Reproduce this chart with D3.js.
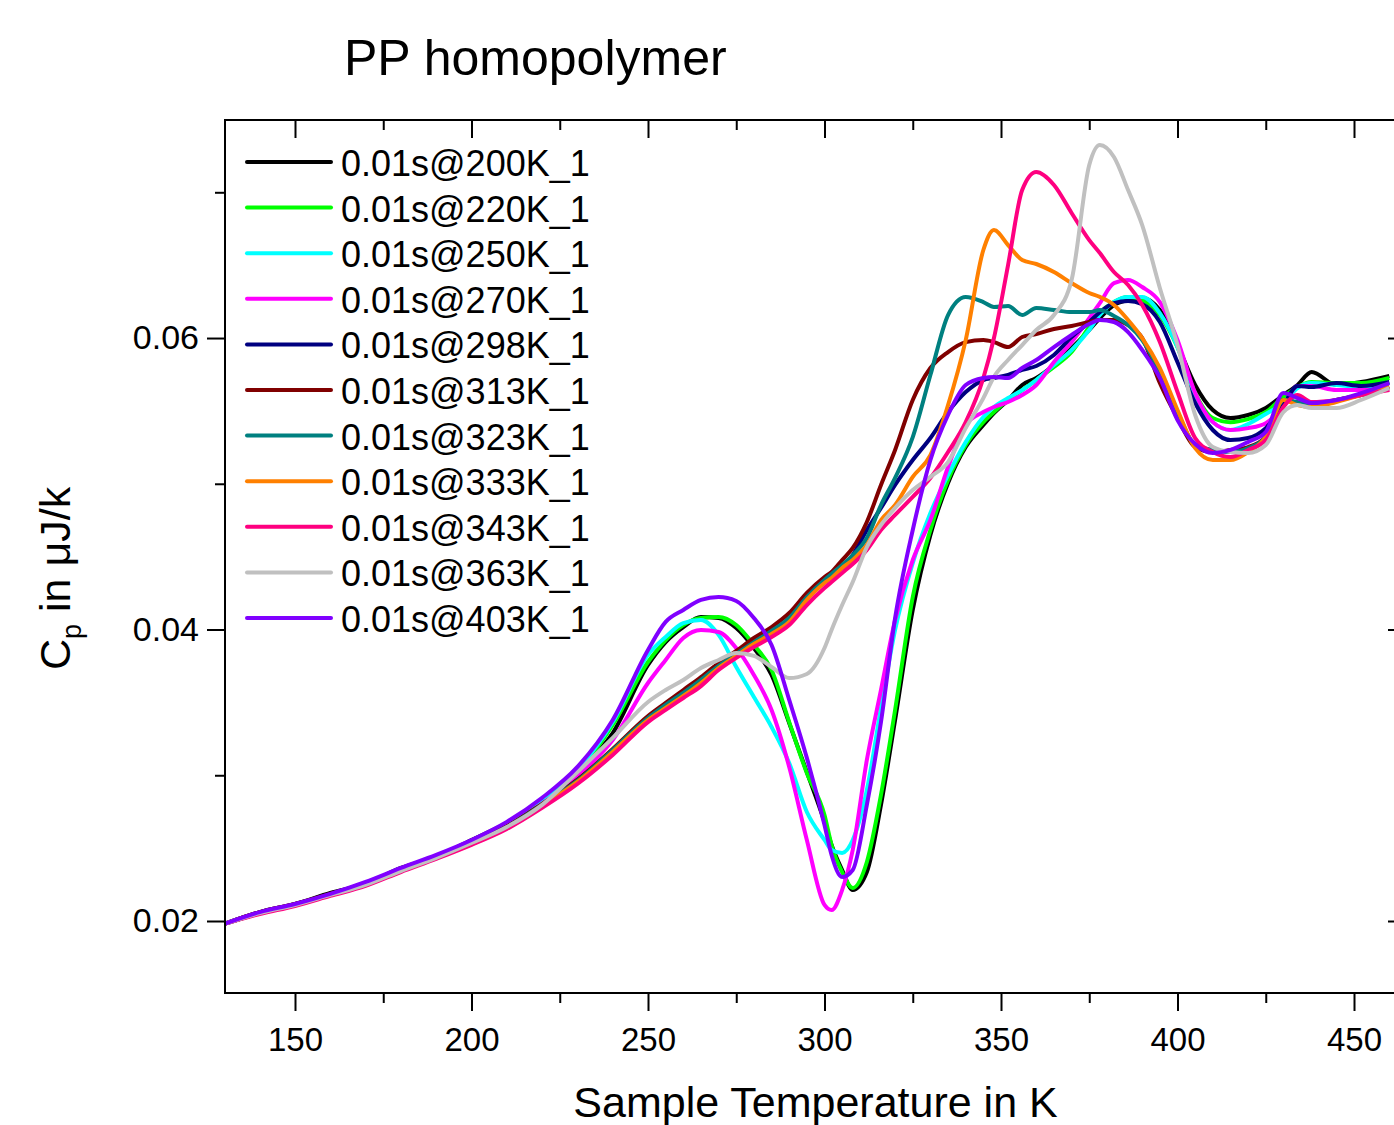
<!DOCTYPE html>
<html lang="en">
<head>
  <meta charset="UTF-8">
  <title>PP homopolymer</title>
  <script src="https://d3js.org/d3.v7.min.js"></script>
  <style>
    body {
      margin: 0;
      background: white;
    }

    svg {
      display: block;
      font-family: "Liberation Sans", Arial, sans-serif;
    }

    .tick line {
      stroke: black;
      stroke-width: 2;
    }

    .tick text {
      font-size: 33px;
      fill: black;
    }

    .y-labels .tick text {
      font-size: 34px;
    }
  </style>
</head>
<body>
  <svg id="chart"></svg>
  <script>
    // Sample temperature in K (shared by all curves)
    const temps = [130, 140, 150, 160, 170, 180, 190, 200, 210, 220, 230, 240, 250, 255, 260, 265, 270, 275, 280, 285, 290, 295, 300, 302, 305, 308, 312, 316, 320, 325, 330, 335, 340, 345, 348, 352, 356, 360, 365, 370, 375, 378, 382, 386, 390, 395, 400, 405, 410, 415, 420, 425, 430, 434, 438, 445, 452, 460];

    // Cp in uJ/k, one array per annealing temperature
    const cp200 = [0.01980, 0.02061, 0.02117, 0.02192, 0.02255, 0.02364, 0.02440, 0.02556, 0.02672, 0.02817, 0.03022, 0.03290, 0.03757, 0.03914, 0.04017, 0.04086, 0.04079, 0.04010, 0.03873, 0.03688, 0.03358, 0.03022, 0.02679, 0.02522, 0.02350, 0.02213, 0.02336, 0.02797, 0.03379, 0.04134, 0.04649, 0.05005, 0.05252, 0.05403, 0.05485, 0.05575, 0.05678, 0.05726, 0.05815, 0.05931, 0.06055, 0.06137, 0.06227, 0.06261, 0.06275, 0.06192, 0.05952, 0.05678, 0.05506, 0.05451, 0.05472, 0.05520, 0.05609, 0.05678, 0.05767, 0.05678, 0.05698, 0.05740];
    const cp220 = [0.01980, 0.02054, 0.02110, 0.02179, 0.02255, 0.02350, 0.02440, 0.02542, 0.02659, 0.02817, 0.03022, 0.03345, 0.03777, 0.03928, 0.04031, 0.04079, 0.04086, 0.04031, 0.03894, 0.03722, 0.03365, 0.03015, 0.02727, 0.02522, 0.02336, 0.02227, 0.02405, 0.02865, 0.03448, 0.04223, 0.04683, 0.05026, 0.05266, 0.05423, 0.05492, 0.05575, 0.05643, 0.05712, 0.05801, 0.05904, 0.06076, 0.06171, 0.06247, 0.06282, 0.06261, 0.06158, 0.05938, 0.05622, 0.05451, 0.05423, 0.05444, 0.05492, 0.05596, 0.05664, 0.05698, 0.05691, 0.05691, 0.05726];
    const cp250 = [0.01980, 0.02054, 0.02110, 0.02179, 0.02255, 0.02350, 0.02440, 0.02542, 0.02659, 0.02817, 0.03036, 0.03365, 0.03826, 0.03949, 0.04044, 0.04065, 0.03963, 0.03743, 0.03537, 0.03331, 0.03084, 0.02748, 0.02556, 0.02488, 0.02467, 0.02556, 0.02899, 0.03462, 0.03997, 0.04456, 0.04799, 0.05061, 0.05286, 0.05458, 0.05527, 0.05588, 0.05643, 0.05712, 0.05815, 0.05918, 0.06055, 0.06158, 0.06247, 0.06282, 0.06282, 0.06171, 0.05938, 0.05588, 0.05423, 0.05369, 0.05410, 0.05479, 0.05554, 0.05657, 0.05691, 0.05678, 0.05664, 0.05691];
    const cp270 = [0.01980, 0.02054, 0.02110, 0.02179, 0.02255, 0.02350, 0.02440, 0.02542, 0.02652, 0.02804, 0.02995, 0.03242, 0.03633, 0.03791, 0.03942, 0.03997, 0.03983, 0.03873, 0.03688, 0.03448, 0.03057, 0.02556, 0.02110, 0.02075, 0.02213, 0.02488, 0.03105, 0.03585, 0.04065, 0.04477, 0.04751, 0.05115, 0.05403, 0.05492, 0.05527, 0.05561, 0.05609, 0.05678, 0.05835, 0.05972, 0.06137, 0.06240, 0.06377, 0.06398, 0.06350, 0.06247, 0.05986, 0.05622, 0.05423, 0.05369, 0.05382, 0.05416, 0.05534, 0.05671, 0.05671, 0.05643, 0.05643, 0.05643];
    const cp298 = [0.01980, 0.02054, 0.02110, 0.02179, 0.02255, 0.02350, 0.02440, 0.02535, 0.02645, 0.02797, 0.02968, 0.03174, 0.03393, 0.03476, 0.03558, 0.03647, 0.03743, 0.03826, 0.03907, 0.03983, 0.04065, 0.04216, 0.04340, 0.04374, 0.04422, 0.04511, 0.04683, 0.04834, 0.04992, 0.05163, 0.05314, 0.05492, 0.05629, 0.05712, 0.05726, 0.05747, 0.05781, 0.05808, 0.05884, 0.06007, 0.06110, 0.06178, 0.06240, 0.06254, 0.06233, 0.06110, 0.05835, 0.05554, 0.05369, 0.05300, 0.05314, 0.05382, 0.05540, 0.05671, 0.05664, 0.05691, 0.05671, 0.05698];
    const cp313 = [0.01980, 0.02061, 0.02117, 0.02186, 0.02262, 0.02357, 0.02447, 0.02542, 0.02652, 0.02804, 0.02968, 0.03180, 0.03406, 0.03496, 0.03585, 0.03674, 0.03770, 0.03853, 0.03942, 0.04017, 0.04113, 0.04251, 0.04360, 0.04395, 0.04477, 0.04560, 0.04738, 0.04992, 0.05232, 0.05575, 0.05794, 0.05904, 0.05972, 0.05986, 0.05972, 0.05938, 0.06007, 0.06028, 0.06062, 0.06083, 0.06110, 0.06124, 0.06124, 0.06089, 0.06000, 0.05691, 0.05451, 0.05252, 0.05218, 0.05232, 0.05252, 0.05320, 0.05575, 0.05554, 0.05527, 0.05575, 0.05609, 0.05664];
    const cp323 = [0.01980, 0.02054, 0.02110, 0.02179, 0.02255, 0.02350, 0.02440, 0.02535, 0.02645, 0.02797, 0.02961, 0.03174, 0.03393, 0.03483, 0.03565, 0.03654, 0.03750, 0.03832, 0.03914, 0.03990, 0.04079, 0.04223, 0.04340, 0.04381, 0.04443, 0.04511, 0.04628, 0.04854, 0.05040, 0.05320, 0.05746, 0.06158, 0.06282, 0.06247, 0.06213, 0.06220, 0.06158, 0.06206, 0.06192, 0.06178, 0.06178, 0.06192, 0.06151, 0.06089, 0.05986, 0.05767, 0.05492, 0.05266, 0.05232, 0.05218, 0.05245, 0.05320, 0.05575, 0.05561, 0.05540, 0.05575, 0.05609, 0.05657];
    const cp333 = [0.01980, 0.02054, 0.02110, 0.02179, 0.02248, 0.02343, 0.02433, 0.02528, 0.02638, 0.02790, 0.02954, 0.03160, 0.03379, 0.03462, 0.03544, 0.03633, 0.03736, 0.03819, 0.03901, 0.03970, 0.04052, 0.04203, 0.04319, 0.04353, 0.04422, 0.04477, 0.04580, 0.04751, 0.04854, 0.05047, 0.05197, 0.05540, 0.05986, 0.06604, 0.06741, 0.06638, 0.06535, 0.06508, 0.06453, 0.06377, 0.06309, 0.06282, 0.06227, 0.06124, 0.06000, 0.05794, 0.05506, 0.05245, 0.05163, 0.05163, 0.05218, 0.05320, 0.05575, 0.05540, 0.05527, 0.05561, 0.05609, 0.05664];
    const cp343 = [0.01980, 0.02048, 0.02103, 0.02172, 0.02241, 0.02336, 0.02426, 0.02522, 0.02631, 0.02776, 0.02940, 0.03139, 0.03365, 0.03448, 0.03530, 0.03612, 0.03722, 0.03805, 0.03880, 0.03949, 0.04031, 0.04168, 0.04285, 0.04326, 0.04388, 0.04450, 0.04546, 0.04683, 0.04786, 0.04910, 0.05040, 0.05218, 0.05423, 0.05726, 0.06000, 0.06501, 0.07015, 0.07139, 0.07050, 0.06858, 0.06672, 0.06583, 0.06453, 0.06364, 0.06227, 0.05973, 0.05630, 0.05314, 0.05218, 0.05184, 0.05232, 0.05300, 0.05527, 0.05609, 0.05561, 0.05575, 0.05609, 0.05643];
    const cp363 = [0.01980, 0.02054, 0.02110, 0.02179, 0.02248, 0.02343, 0.02433, 0.02535, 0.02645, 0.02797, 0.03022, 0.03256, 0.03503, 0.03585, 0.03654, 0.03736, 0.03791, 0.03839, 0.03819, 0.03743, 0.03667, 0.03695, 0.03873, 0.03997, 0.04168, 0.04326, 0.04566, 0.04717, 0.04834, 0.04957, 0.05047, 0.05149, 0.05382, 0.05588, 0.05733, 0.05849, 0.05952, 0.06055, 0.06158, 0.06398, 0.07187, 0.07324, 0.07242, 0.07015, 0.06775, 0.06343, 0.05952, 0.05472, 0.05252, 0.05218, 0.05211, 0.05266, 0.05492, 0.05540, 0.05520, 0.05520, 0.05575, 0.05657];
    const cp403 = [0.01980, 0.02061, 0.02117, 0.02186, 0.02268, 0.02364, 0.02454, 0.02556, 0.02680, 0.02845, 0.03057, 0.03379, 0.03860, 0.04052, 0.04134, 0.04203, 0.04223, 0.04196, 0.04079, 0.03894, 0.03517, 0.03119, 0.02659, 0.02453, 0.02302, 0.02350, 0.02797, 0.03365, 0.04079, 0.04683, 0.05163, 0.05472, 0.05678, 0.05726, 0.05733, 0.05726, 0.05794, 0.05849, 0.05938, 0.06021, 0.06096, 0.06124, 0.06110, 0.06041, 0.05918, 0.05726, 0.05437, 0.05273, 0.05211, 0.05232, 0.05287, 0.05355, 0.05622, 0.05588, 0.05554, 0.05575, 0.05622, 0.05691];

    const seriesNames = ["0.01s@200K_1", "0.01s@220K_1", "0.01s@250K_1", "0.01s@270K_1", "0.01s@298K_1", "0.01s@313K_1", "0.01s@323K_1", "0.01s@333K_1", "0.01s@343K_1", "0.01s@363K_1", "0.01s@403K_1"];
    const seriesValues = [cp200, cp220, cp250, cp270, cp298, cp313, cp323, cp333, cp343, cp363, cp403];
    const seriesColors = ["#000000", "#00ff00", "#00ffff", "#ff00ff", "#000080", "#800000", "#008080", "#ff8000", "#ff0080", "#c0c0c0", "#8000ff"];

    const xTicks = [150, 200, 250, 300, 350, 400, 450];
    const xMinorTicks = [175, 225, 275, 325, 375, 425];
    const yTicks = [0.02, 0.04, 0.06];
    const yMinorTicks = [0.03, 0.05, 0.07];

    const width = 1394;
    const height = 1125;
    const plot = { left: 225, right: 1406, top: 120, bottom: 993 };

    const svg = d3.select("#chart")
      .attr("width", width)
      .attr("height", height);

    // Scales
    const xScale = d3.scaleLinear()
      .domain([130.17, 464.73])
      .range([plot.left, plot.right]);

    const yScale = d3.scaleLinear()
      .domain([0.01506, 0.07496])
      .range([plot.bottom, plot.top]);

    svg.append("clipPath")
      .attr("id", "plot-clip")
      .append("rect")
      .attr("x", plot.left)
      .attr("y", plot.top)
      .attr("width", plot.right - plot.left)
      .attr("height", plot.bottom - plot.top);

    // Curves
    const line = d3.line()
      .x(d => xScale(d[0]))
      .y(d => yScale(d[1]))
      .curve(d3.curveMonotoneX);

    const curves = svg.append("g").attr("clip-path", "url(#plot-clip)");
    seriesValues.forEach((vals, i) => {
      curves.append("path")
        .datum(temps.map((t, j) => [t, vals[j]]))
        .attr("d", line)
        .attr("fill", "none")
        .attr("stroke", seriesColors[i])
        .attr("stroke-width", 4)
        .attr("stroke-linejoin", "round");
    });

    // Axes: major and minor ticks on all four sides
    function addAxis(axis, tx, ty, cls) {
      const g = svg.append("g")
        .attr("class", cls || null)
        .attr("transform", `translate(${tx}, ${ty})`)
        .call(axis);
      g.select(".domain").remove();
      return g;
    }

    addAxis(d3.axisBottom(xScale).tickValues(xTicks).tickSize(18).tickPadding(17).tickFormat(d3.format("d")), 0, plot.bottom);
    addAxis(d3.axisBottom(xScale).tickValues(xMinorTicks).tickSize(10).tickFormat(""), 0, plot.bottom);
    addAxis(d3.axisTop(xScale).tickValues(xTicks).tickSize(-18).tickFormat(""), 0, plot.top);
    addAxis(d3.axisTop(xScale).tickValues(xMinorTicks).tickSize(-10).tickFormat(""), 0, plot.top);

    addAxis(d3.axisLeft(yScale).tickValues(yTicks).tickSize(18).tickPadding(8).tickFormat(d3.format(".2f")), plot.left, 0, "y-labels");
    addAxis(d3.axisLeft(yScale).tickValues(yMinorTicks).tickSize(10).tickFormat(""), plot.left, 0);
    addAxis(d3.axisRight(yScale).tickValues(yTicks).tickSize(-18).tickFormat(""), plot.right, 0);
    addAxis(d3.axisRight(yScale).tickValues(yMinorTicks).tickSize(-10).tickFormat(""), plot.right, 0);

    svg.selectAll(".tick text").attr("font-family", null).attr("font-size", null);

    // Frame
    svg.append("rect")
      .attr("x", plot.left)
      .attr("y", plot.top)
      .attr("width", plot.right - plot.left)
      .attr("height", plot.bottom - plot.top)
      .attr("fill", "none")
      .attr("stroke", "black")
      .attr("stroke-width", 2);

    // Title
    svg.append("text")
      .attr("x", 344)
      .attr("y", 75)
      .attr("font-size", 50)
      .text("PP homopolymer");

    // Axis titles
    svg.append("text")
      .attr("x", (plot.left + plot.right) / 2)
      .attr("y", 1117)
      .attr("text-anchor", "middle")
      .attr("font-size", 43)
      .text("Sample Temperature in K");

    const yTitle = svg.append("text")
      .attr("transform", "translate(70, 670) rotate(-90)")
      .attr("font-size", 43);
    yTitle.append("tspan").text("C");
    yTitle.append("tspan").attr("font-size", 27).attr("dy", 11).text("p");
    yTitle.append("tspan").attr("dy", -11).text(" in μJ/k");

    // Legend
    const legend = svg.append("g").attr("transform", "translate(247, 162)");
    seriesNames.forEach((name, i) => {
      const row = legend.append("g").attr("transform", `translate(0, ${i * 45.6})`);
      row.append("line")
        .attr("x1", 0)
        .attr("x2", 84)
        .attr("stroke", seriesColors[i])
        .attr("stroke-width", 4)
        .attr("stroke-linecap", "round");
      row.append("text")
        .attr("x", 94)
        .attr("y", 14)
        .attr("font-size", 36)
        .text(name);
    });
  </script>
</body>
</html>
